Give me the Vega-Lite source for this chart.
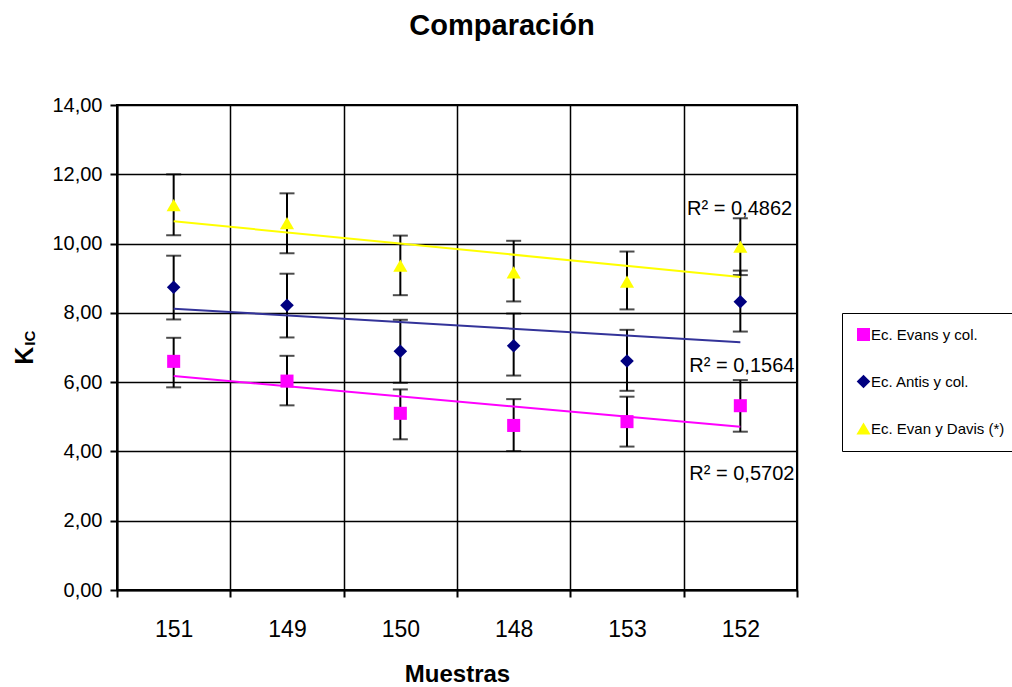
{
  "$schema": "https://vega.github.io/schema/vega-lite/v6.json",
  "autosize": {"type": "none"},
  "width": 680,
  "height": 485,
  "padding": {"left": 117, "top": 105, "right": 215, "bottom": 97},
  "background": "white",
  "title": {"text": "Comparación", "fontSize": 29, "fontWeight": "bold", "font": "Liberation Sans", "color": "black", "anchor": "middle", "dx": 45, "offset": 54},
  "data": {"values": [
    {"sample": "151", "idx": 1, "series": "Ec. Evans y col.", "value": 6.60, "lo": 5.85, "hi": 7.28},
    {"sample": "149", "idx": 2, "series": "Ec. Evans y col.", "value": 6.03, "lo": 5.33, "hi": 6.76},
    {"sample": "150", "idx": 3, "series": "Ec. Evans y col.", "value": 5.10, "lo": 4.35, "hi": 5.79},
    {"sample": "148", "idx": 4, "series": "Ec. Evans y col.", "value": 4.75, "lo": 4.01, "hi": 5.51},
    {"sample": "153", "idx": 5, "series": "Ec. Evans y col.", "value": 4.86, "lo": 4.14, "hi": 5.58},
    {"sample": "152", "idx": 6, "series": "Ec. Evans y col.", "value": 5.32, "lo": 4.57, "hi": 6.06},
    {"sample": "151", "idx": 1, "series": "Ec. Antis y col.", "value": 8.74, "lo": 7.81, "hi": 9.65},
    {"sample": "149", "idx": 2, "series": "Ec. Antis y col.", "value": 8.22, "lo": 7.29, "hi": 9.13},
    {"sample": "150", "idx": 3, "series": "Ec. Antis y col.", "value": 6.89, "lo": 5.98, "hi": 7.80},
    {"sample": "148", "idx": 4, "series": "Ec. Antis y col.", "value": 7.05, "lo": 6.19, "hi": 7.98},
    {"sample": "153", "idx": 5, "series": "Ec. Antis y col.", "value": 6.61, "lo": 5.75, "hi": 7.51},
    {"sample": "152", "idx": 6, "series": "Ec. Antis y col.", "value": 8.32, "lo": 7.46, "hi": 9.22},
    {"sample": "151", "idx": 1, "series": "Ec. Evan y Davis (*)", "value": 11.11, "lo": 10.24, "hi": 12.00},
    {"sample": "149", "idx": 2, "series": "Ec. Evan y Davis (*)", "value": 10.59, "lo": 9.72, "hi": 11.45},
    {"sample": "150", "idx": 3, "series": "Ec. Evan y Davis (*)", "value": 9.36, "lo": 8.51, "hi": 10.23},
    {"sample": "148", "idx": 4, "series": "Ec. Evan y Davis (*)", "value": 9.17, "lo": 8.33, "hi": 10.08},
    {"sample": "153", "idx": 5, "series": "Ec. Evan y Davis (*)", "value": 8.90, "lo": 8.10, "hi": 9.77},
    {"sample": "152", "idx": 6, "series": "Ec. Evan y Davis (*)", "value": 9.91, "lo": 9.09, "hi": 10.73}
  ]},
  "layer": [
    {
      "layer": [
        {
          "mark": {"type": "errorbar", "color": "black", "thickness": 2, "ticks": {"size": 15, "thickness": 2, "color": "black"}},
          "encoding": {
            "x": {"field": "sample", "type": "ordinal", "sort": ["151", "149", "150", "148", "153", "152"], "scale": {"type": "band", "paddingInner": 0, "paddingOuter": 0},
                  "axis": {"title": "Muestras", "tickBand": "extent", "grid": true, "labelAngle": 0, "labelFontSize": 23, "labelPadding": 21, "tickSize": 7, "titleFontSize": 24, "titleFontWeight": "bold", "titlePadding": 21}},
            "y": {"field": "lo", "type": "quantitative", "scale": {"domain": [0, 14], "nice": false},
                  "axis": {"title": null, "values": [0, 2, 4, 6, 8, 10, 12, 14], "labelExpr": "replace(format(datum.value, '.2f'), '.', ',')", "grid": true, "tickSize": 7, "labelFontSize": 20, "labelPadding": 8}},
            "y2": {"field": "hi"}
          }
        },
        {
          "mark": {"type": "point", "filled": true, "opacity": 1},
          "encoding": {
            "x": {"field": "sample", "type": "ordinal", "sort": ["151", "149", "150", "148", "153", "152"], "scale": {"type": "band", "paddingInner": 0, "paddingOuter": 0},
                  "axis": {"title": "Muestras", "tickBand": "extent", "grid": true, "labelAngle": 0, "labelFontSize": 23, "labelPadding": 21, "tickSize": 7, "titleFontSize": 24, "titleFontWeight": "bold", "titlePadding": 21}},
            "y": {"field": "value", "type": "quantitative",
                  "axis": {"title": null, "values": [0, 2, 4, 6, 8, 10, 12, 14], "labelExpr": "replace(format(datum.value, '.2f'), '.', ',')", "grid": true, "tickSize": 7, "labelFontSize": 20, "labelPadding": 8}},
            "size": {"field": "series", "type": "nominal", "legend": null,
                     "scale": {"domain": ["Ec. Evans y col.", "Ec. Antis y col.", "Ec. Evan y Davis (*)"], "range": [170, 200, 240]}},
            "color": {"field": "series", "type": "nominal", "title": null,
                      "scale": {"domain": ["Ec. Evans y col.", "Ec. Antis y col.", "Ec. Evan y Davis (*)"], "range": ["#FF00FF", "#000080", "#FFFF00"]},
                      "legend": {"orient": "none", "legendX": 725, "legendY": 208, "strokeColor": "black", "fillColor": "white", "padding": 14, "rowPadding": 31, "symbolSize": 100, "labelFontSize": 15, "labelOffset": 0, "symbolStrokeWidth": 0, "labelColor": "black"}},
            "shape": {"field": "series", "type": "nominal", "title": null,
                      "scale": {"domain": ["Ec. Evans y col.", "Ec. Antis y col.", "Ec. Evan y Davis (*)"], "range": ["square", "diamond", "triangle-up"]},
                      "legend": {"orient": "none", "legendX": 725, "legendY": 208, "strokeColor": "black", "fillColor": "white", "padding": 14, "rowPadding": 31, "symbolSize": 100, "labelFontSize": 15, "labelOffset": 0, "symbolStrokeWidth": 0, "labelColor": "black"}}
          }
        }
      ]
    },
    {
      "layer": [
        {
          "transform": [{"regression": "value", "on": "idx", "groupby": ["series"], "extent": [1, 6]}],
          "mark": {"type": "line", "strokeWidth": 2},
          "encoding": {
            "x": {"field": "idx", "type": "quantitative", "scale": {"domain": [0.5, 6.5], "nice": false, "zero": false}, "axis": null},
            "y": {"field": "value", "type": "quantitative"},
            "stroke": {"field": "series", "type": "nominal", "legend": null,
                       "scale": {"domain": ["Ec. Evans y col.", "Ec. Antis y col.", "Ec. Evan y Davis (*)"], "range": ["#FF00FF", "#333399", "#FFFF00"]}}
          }
        },
        {
          "data": {"values": [{"label": "R² = 0,4862"}]},
          "mark": {"type": "text", "align": "left", "baseline": "alphabetic", "fontSize": 20, "color": "black"},
          "encoding": {"x": {"datum": 5.53, "type": "quantitative", "axis": null}, "y": {"datum": 10.83, "type": "quantitative"}, "text": {"field": "label"}}
        },
        {
          "data": {"values": [{"label": "R² = 0,1564"}]},
          "mark": {"type": "text", "align": "left", "baseline": "alphabetic", "fontSize": 20, "color": "black"},
          "encoding": {"x": {"datum": 5.55, "type": "quantitative", "axis": null}, "y": {"datum": 6.30, "type": "quantitative"}, "text": {"field": "label"}}
        },
        {
          "data": {"values": [{"label": "R² = 0,5702"}]},
          "mark": {"type": "text", "align": "left", "baseline": "alphabetic", "fontSize": 20, "color": "black"},
          "encoding": {"x": {"datum": 5.55, "type": "quantitative", "axis": null}, "y": {"datum": 3.18, "type": "quantitative"}, "text": {"field": "label"}}
        },
        {
          "data": {"values": [{"label": "K"}]},
          "mark": {"type": "text", "align": "center", "baseline": "alphabetic", "fontSize": 25, "fontWeight": "bold", "angle": 270, "color": "black"},
          "encoding": {"x": {"datum": -0.241, "type": "quantitative", "axis": null}, "y": {"datum": 6.76, "type": "quantitative"}, "text": {"field": "label"}}
        },
        {
          "data": {"values": [{"label": "IC"}]},
          "mark": {"type": "text", "align": "center", "baseline": "alphabetic", "fontSize": 15, "fontWeight": "bold", "angle": 270, "color": "black"},
          "encoding": {"x": {"datum": -0.224, "type": "quantitative", "axis": null}, "y": {"datum": 7.27, "type": "quantitative"}, "text": {"field": "label"}}
        }
      ]
    }
  ],
  "resolve": {"scale": {"x": "independent"}},
  "config": {
    "font": "Liberation Sans",
    "view": {"stroke": "black", "strokeWidth": 2},
    "axis": {"domainColor": "black", "domainWidth": 2, "tickColor": "black", "tickWidth": 2, "gridColor": "black", "gridWidth": 1.5, "gridOpacity": 1, "labelColor": "black", "labelFont": "Liberation Sans", "titleColor": "black", "titleFont": "Liberation Sans"},
    "legend": {"labelFont": "Liberation Sans"}
  }
}
